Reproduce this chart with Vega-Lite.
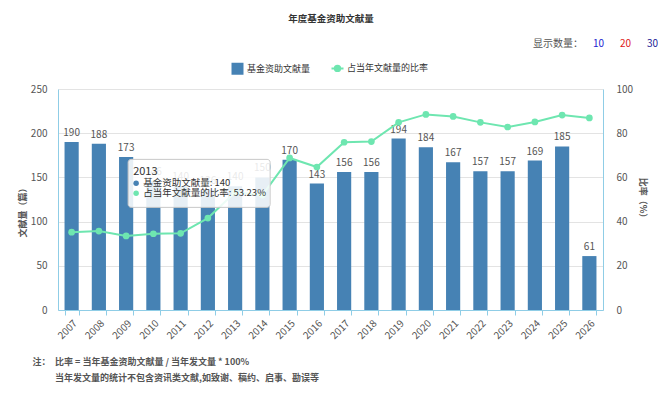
{
  "$schema": "https://vega.github.io/schema/vega-lite/v6.json",
  "width": 545,
  "height": 221,
  "autosize": {"type": "none"},
  "padding": {"left": 58, "top": 89, "right": 55, "bottom": 86},
  "background": "white",
  "title": {"text": "当年发文量的统计不包含资讯类文献,如致谢、稿约、启事、勘误等", "orient": "bottom", "anchor": "start", "frame": "group", "dx": -3, "offset": 8, "fontSize": 9, "fontWeight": "bold", "color": "#555"},
  "datasets": {
    "main": [
      {"year": "2007", "count": 190, "ratio": 35.2},
      {"year": "2008", "count": 188, "ratio": 35.7},
      {"year": "2009", "count": 173, "ratio": 33.5},
      {"year": "2010", "count": 146, "ratio": 34.5},
      {"year": "2011", "count": 140, "ratio": 34.7},
      {"year": "2012", "count": 136, "ratio": 41.6},
      {"year": "2013", "count": 140, "ratio": 53.23},
      {"year": "2014", "count": 150, "ratio": 52.0},
      {"year": "2015", "count": 170, "ratio": 68.8},
      {"year": "2016", "count": 143, "ratio": 64.7},
      {"year": "2017", "count": 156, "ratio": 75.9},
      {"year": "2018", "count": 156, "ratio": 76.2},
      {"year": "2019", "count": 194, "ratio": 84.9},
      {"year": "2020", "count": 184, "ratio": 88.5},
      {"year": "2021", "count": 167, "ratio": 87.6},
      {"year": "2022", "count": 157, "ratio": 84.9},
      {"year": "2023", "count": 157, "ratio": 82.8},
      {"year": "2024", "count": 169, "ratio": 85.1},
      {"year": "2025", "count": 185, "ratio": 88.2},
      {"year": "2026", "count": 61, "ratio": 86.9}
    ],
    "shown": [{"n": "10"}, {"n": "20"}, {"n": "30"}]
  },
  "layer": [
    {
      "data": {"name": "main"},
      "encoding": {
        "x": {
          "field": "year", "type": "ordinal",
          "scale": {"paddingInner": 0.48, "paddingOuter": 0.24},
          "axis": {
            "title": "注：\u2002比率 = 当年基金资助文献量 / 当年发文量 * 100%",
            "titleAnchor": "start", "titleAlign": "left", "titleX": -26, "titleY": 54,
            "titleBaseline": "alphabetic", "titleFontSize": 9, "titleFontWeight": "bold",
            "titleColor": "#555",
            "labelAngle": -45, "labelFontSize": 10, "labelColor": "#555", "labelPadding": 3,
            "domainColor": "#8fcde6", "tickColor": "#8fcde6", "tickSize": 5, "tickBand": "extent",
            "grid": false
          }
        },
        "y": {
          "field": "count", "type": "quantitative",
          "scale": {"domain": [0, 250], "nice": false},
          "axis": {
            "title": "文献量（篇）", "titleFontSize": 9, "titleColor": "#555", "titleFontWeight": "bold",
            "titlePadding": 3, "titleY": 121,
            "values": [0, 50, 100, 150, 200, 250],
            "labelFontSize": 10, "labelColor": "#555", "ticks": false, "labelPadding": 11,
            "domainColor": "#8fcde6", "gridColor": "#e3e3e3"
          }
        }
      },
      "layer": [
        {
          "mark": {"type": "bar"},
          "encoding": {
            "color": {
              "datum": "基金资助文献量",
              "scale": {"domain": ["基金资助文献量", "占当年文献量的比率"], "range": ["#4682b4", "#6ee6b0"]},
              "legend": {
                "orient": "none", "legendX": 175, "legendY": -75, "direction": "horizontal",
                "title": "年度基金资助文献量", "titleOrient": "top", "titleAnchor": "middle",
                "titleFontSize": 9.5, "titleFontWeight": "bold", "titleColor": "#333", "titlePadding": 40,
                "symbolSize": 144, "labelFontSize": 9, "labelColor": "#333",
                "columnPadding": 16, "labelOffset": 5,
                "encode": {
                  "symbols": {
                    "update": {
                      "shape": {"signal": "datum.value === '基金资助文献量' ? 'square' : 'M-1,0L1,0M-0.45,0A0.45,0.45,0,1,0,0.45,0A0.45,0.45,0,1,0,-0.45,0Z'"},
                      "fill": {"signal": "scale('color', datum.value)"},
                      "stroke": {"signal": "scale('color', datum.value)"},
                      "strokeWidth": {"signal": "datum.value === '基金资助文献量' ? 0 : 2"},
                      "opacity": {"value": 1}
                    }
                  }
                }
              }
            }
          }
        },
        {
          "mark": {"type": "text", "baseline": "bottom", "dy": -4, "fontSize": 10, "color": "#555"},
          "encoding": {"text": {"field": "count", "type": "quantitative"}}
        }
      ]
    },
    {
      "data": {"name": "main"},
      "encoding": {
        "x": {"field": "year", "type": "ordinal"},
        "y": {
          "field": "ratio", "type": "quantitative",
          "scale": {"domain": [0, 100], "nice": false},
          "axis": {
            "orient": "right", "title": "比率（%）", "titleFontSize": 9, "titleColor": "#555", "titleFontWeight": "bold",
            "titlePadding": 5,
            "values": [0, 20, 40, 60, 80, 100], "grid": false, "ticks": false, "labelPadding": 13,
            "labelFontSize": 10, "labelColor": "#555", "domainColor": "#8fcde6"
          }
        }
      },
      "layer": [
        {"mark": {"type": "line", "strokeWidth": 2}, "encoding": {"color": {"datum": "占当年文献量的比率"}}},
        {"mark": {"type": "point", "filled": true, "size": 45, "opacity": 1}, "encoding": {"color": {"datum": "占当年文献量的比率"}}}
      ]
    },
    {
      "data": {"name": "main"},
      "transform": [
        {"filter": "datum.year === '2013'"},
        {"calculate": "'基金资助文献量: ' + datum.count", "as": "line1"},
        {"calculate": "'占当年文献量的比率: ' + format(datum.ratio, '.2f') + '%'", "as": "line2"}
      ],
      "encoding": {
        "x": {"field": "year", "type": "ordinal"},
        "y": {"field": "ratio", "type": "quantitative", "scale": {"domain": [0, 100], "nice": false}, "axis": null}
      },
      "layer": [
        {"mark": {"type": "rect", "width": 142, "height": 48, "xOffset": -36, "yOffset": -9, "fill": "white", "fillOpacity": 0.87, "stroke": "#c8c8c8", "strokeWidth": 1, "cornerRadius": 3}},
        {"mark": {"type": "text", "align": "left", "baseline": "middle", "dx": -102, "dy": -20.5, "fontSize": 11, "color": "#333"}, "encoding": {"text": {"field": "year"}}},
        {"mark": {"type": "point", "filled": true, "size": 30, "opacity": 1, "color": "#4682b4", "xOffset": -99, "yOffset": -9}},
        {"mark": {"type": "text", "align": "left", "baseline": "middle", "dx": -92, "dy": -9, "fontSize": 9.5, "color": "#333"}, "encoding": {"text": {"field": "line1"}}},
        {"mark": {"type": "point", "filled": true, "size": 30, "opacity": 1, "color": "#6ee6b0", "xOffset": -99, "yOffset": 1}},
        {"mark": {"type": "text", "align": "left", "baseline": "middle", "dx": -92, "dy": 1, "fontSize": 9.5, "color": "#333"}, "encoding": {"text": {"field": "line2"}}}
      ]
    },
    {
      "data": {"name": "shown"},
      "mark": {"type": "point", "opacity": 0},
      "encoding": {
        "shape": {
          "field": "n", "type": "nominal",
          "legend": {
            "orient": "none", "legendX": 475, "legendY": -50, "direction": "horizontal",
            "title": "显示数量：", "titleOrient": "left", "titleFontSize": 10, "titleFontWeight": "normal",
            "titleColor": "#555", "titlePadding": 0, "titleBaseline": "middle",
            "symbolSize": 0, "symbolOpacity": 0, "symbolStrokeWidth": 0, "labelOffset": 0,
            "labelFontSize": 10, "columnPadding": 5,
            "labelColor": {"expr": "datum.value === '20' ? '#e0201c' : (datum.value === '30' ? '#1c1c96' : '#2424d0')"}
          }
        }
      }
    }
  ],
  "resolve": {"scale": {"y": "independent"}},
  "config": {
    "font": "Noto Sans CJK SC",
    "view": {"stroke": null}
  }
}
